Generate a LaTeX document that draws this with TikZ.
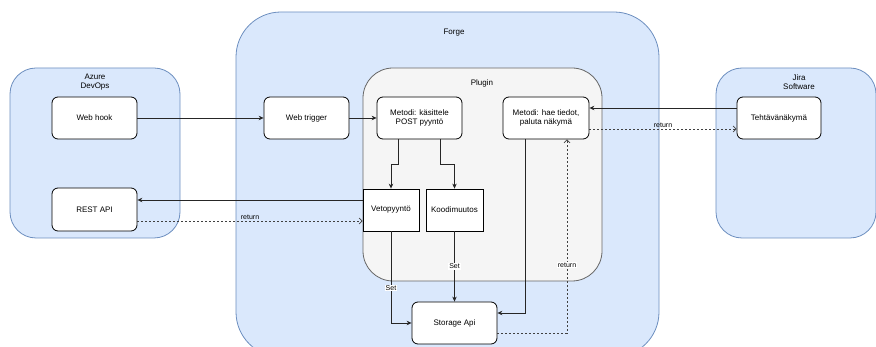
\documentclass[tikz,border=0pt]{standalone}
\usepackage{fontspec}
\setmainfont{Liberation Sans}
\usetikzlibrary{arrows.meta}
\definecolor{contfill}{HTML}{DAE8FC}
\definecolor{contline}{HTML}{6C8EBF}
\definecolor{plugfill}{HTML}{F5F5F5}
\definecolor{plugline}{HTML}{666666}
\begin{document}
\begin{tikzpicture}[x=1pt,y=-1pt,
  font=\fontsize{8}{9.5}\selectfont,
  box/.style={draw=black,fill=white,rounded corners=6pt,line width=0.8pt,minimum width=85pt,minimum height=42pt,align=center,inner sep=1pt},
  sqbox/.style={draw=black,fill=white,line width=0.8pt,minimum height=42pt,align=center,inner sep=1pt},
  cont/.style={draw=contline,fill=contfill,line width=0.8pt},
  conn/.style={draw=black!85,line width=0.7pt,-{Stealth[length=5pt,width=4.5pt]}},
  ret/.style={draw=black!75,line width=0.7pt,dash pattern=on 2pt off 2pt,-{Straight Barb[length=3pt,width=6pt]}},
  lbl/.style={fill=white,inner sep=0.8pt,font=\fontsize{7}{8.5}\selectfont},
  lblab/.style={above,inner sep=1pt,font=\fontsize{7}{8.5}\selectfont}
]
\useasboundingbox (0,0) rectangle (876,347);
\clip (0,0) rectangle (876,347);
% containers
\draw[cont,rounded corners=26pt] (10,68) rectangle (180,238);
\draw[cont,rounded corners=45pt] (236,12) rectangle (659,357);
\draw[cont,rounded corners=26pt] (716,68) rectangle (876,238);
\draw[draw=plugline,fill=plugfill,line width=0.8pt,rounded corners=30pt] (363,68) rectangle (602,281);
% container labels
\node[align=center] (azl) at (95,82) {Azure\\DevOps};
\node[align=center] (jil) at (799,82) {Jira\\Software};
\node (fol) at (454,33) {Forge};
\node (pll) at (482,83) {Plugin};
% nodes
\node[box] (webhook) at (94.5,118) {Web hook};
\node[box,minimum height=43pt] (rest) at (94.5,209.5) {REST API};
\node[box] (trigger) at (306.5,118) {Web trigger};
\node[box] (kasittele) at (419.5,118) {Metodi: käsittele\\POST pyyntö};
\node[box,minimum width=86pt] (hae) at (546,118) {Metodi: hae tiedot,\\paluta näkymä};
\node[box,minimum width=84pt] (teht) at (779,118) {Tehtävänäkymä};
\node[sqbox,minimum width=56pt] (veto) at (391,210) {Vetopyyntö};
\node[sqbox,minimum width=57pt] (koodi) at (454.5,210) {Koodimuutos};
\node[box] (storage) at (454.5,323) {Storage Api};
% connectors
\draw[conn] (webhook.east) -- (trigger.west);
\draw[conn] (trigger.east) -- (kasittele.west);
\draw[conn] (kasittele.south -| 398,0) -- (398,164) -- (391,164) -- (veto.north);
\draw[conn] (kasittele.south -| 440,0) -- (440,164) -- (454.5,164) -- (koodi.north);
\draw[conn] (veto.west |- 0,200) -- (rest.east |- 0,200);
\draw[ret] (rest.east |- 0,221) -- node[lblab,pos=0.5] (r1) {return} (veto.west |- 0,221);
\draw[conn] (veto.south) -- (391,323) node[lbl,pos=0.62] (s1) {Set} -- (storage.west);
\draw[conn] (koodi.south) -- node[lbl,pos=0.5] (s2) {Set} (storage.north);
\draw[conn] (hae.south -| 525,0) -- (525,313) -- (storage.east |- 0,313);
\draw[ret] (storage.east |- 0,333) -- (567,333) -- node[lbl,pos=0.35] (r2) {return} (hae.south -| 567,0);
\draw[conn] (teht.west |- 0,108) -- (hae.east |- 0,108);
\draw[ret] (hae.east |- 0,129) -- node[lblab,pos=0.5] (r3) {return} (teht.west |- 0,129);
\end{tikzpicture}
\end{document}
